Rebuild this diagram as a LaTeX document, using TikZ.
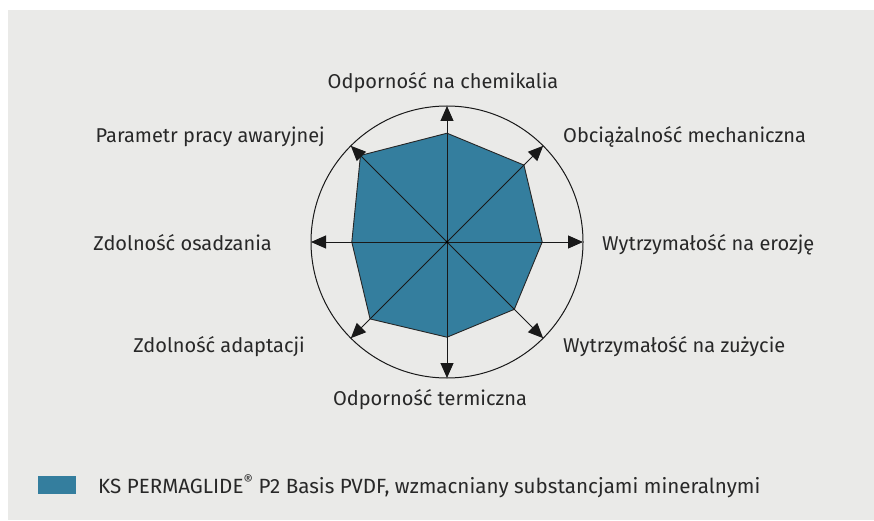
\documentclass[tikz,border=0pt]{standalone}
\usepackage{fontspec}
\setmainfont{Fira Sans}
\usetikzlibrary{arrows.meta}
\definecolor{bg}{RGB}{234,234,232}
\definecolor{teal}{RGB}{52,126,158}
\definecolor{txt}{RGB}{40,40,40}
\tikzset{
  lbl/.style={inner sep=0pt, text=txt, font=\fontsize{20}{24}\selectfont},
  axis/.style={draw=black!90, line width=1pt, -{Triangle[length=15pt,width=13pt]}},
}
\begin{document}
\begin{tikzpicture}[x=1pt,y=1pt]
\useasboundingbox (0,0) rectangle (874,520);
\fill[bg] (8,0) rectangle (874,510);
\begin{scope}[shift={(447,278)}]
  \coordinate (c) at (0,0);
  \fill[teal, draw=black!85, line width=0.9pt, line join=round]
    (90:108.8) -- (45:108.8) -- (0:95.2) -- (-45:95.2) -- (-90:95.2)
    -- (-135:108.8) -- (180:95.2) -- (135:122.4) -- cycle;
  \draw[black!90, line width=1pt] (c) circle[radius=136pt];
  \foreach \a/\n in {90/tN,45/tNE,0/tE,-45/tSE,-90/tS,-135/tSW,180/tW,135/tNW}{
    \coordinate (\n) at (\a:136);
  }
  \foreach \n in {tN,tNE,tE,tSE,tS,tSW,tW,tNW}{
    \draw[axis] (c) -- (\n);
  }
  \fill[black] (c) circle[radius=1.6pt];
\end{scope}
\node[lbl, anchor=base] (l1) at (443,431) {Odporność na chemikalia};
\node[lbl, anchor=base west] (l2) at (563,377) {Obciążalność mechaniczna};
\node[lbl, anchor=base east] (l3) at (325,377) {Parametr pracy awaryjnej};
\node[lbl, anchor=base west] (l4) at (602,270) {Wytrzymałość na erozję};
\node[lbl, anchor=base east] (l5) at (272,270) {Zdolność osadzania};
\node[lbl, anchor=base east] (l6) at (305,168) {Zdolność adaptacji};
\node[lbl, anchor=base west] (l7) at (563,168) {Wytrzymałość na zużycie};
\node[lbl, anchor=base] (l8) at (430,115) {Odporność termiczna};
\fill[teal] (38,26) rectangle (76,44);
\node[lbl, anchor=base west, font=\fontsize{20.6}{24}\selectfont] (leg) at (98,27) {KS PERMAGLIDE\textsuperscript{®} P2 Basis PVDF, wzmacniany substancjami mineralnymi};
\end{tikzpicture}
\end{document}
